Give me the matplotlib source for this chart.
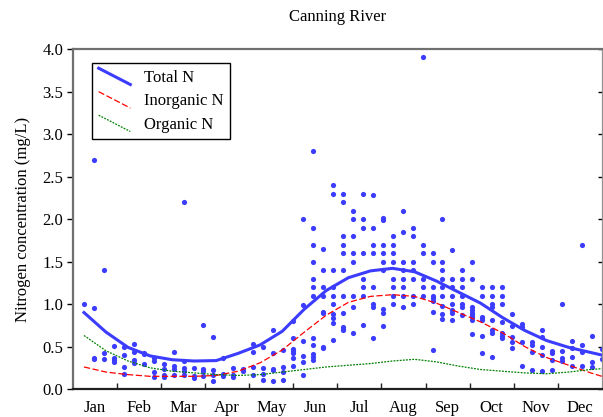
import numpy as np
import matplotlib
matplotlib.use('Agg')
import matplotlib.pyplot as plt
from matplotlib.legend_handler import HandlerBase
from matplotlib.lines import Line2D

plt.rcParams['font.family'] = ['Liberation Serif', 'DejaVu Serif']
plt.rcParams['font.size'] = 12

months = ['Jan', 'Feb', 'Mar', 'Apr', 'May', 'Jun', 'Jul', 'Aug', 'Sep', 'Oct', 'Nov', 'Dec']

# total N samples, one list per weekly sampling column (week 0 .. 52)
weekly_tn = [
    [1.0],
    [2.7, 0.95, 0.36, 0.35],
    [1.4, 0.43, 0.35],
    [0.51, 0.37, 0.34, 0.32],
    [0.5, 0.4, 0.26, 0.18],
    [0.53, 0.44, 0.34, 0.31],
    [0.43, 0.41, 0.30],
    [0.36, 0.33, 0.2, 0.14],
    [0.30, 0.24, 0.17, 0.14],
    [0.44, 0.27, 0.24, 0.17],
    [2.2, 0.33, 0.25, 0.21, 0.16],
    [0.25, 0.15, 0.13],
    [0.75, 0.24, 0.21, 0.15],
    [0.61, 0.22, 0.16, 0.1],
    [0.36, 0.18, 0.15],
    [0.25, 0.17, 0.14],
    [0.24, 0.21],
    [0.53, 0.44, 0.26, 0.16],
    [0.49, 0.25, 0.18, 0.11],
    [0.69, 0.43, 0.24, 0.22, 0.09],
    [0.46, 0.26, 0.20, 0.11],
    [0.80, 0.60, 0.47, 0.45, 0.42, 0.36, 0.27],
    [2.0, 0.99, 0.56, 0.39, 0.32, 0.17],
    [2.8, 1.9, 1.7, 1.5, 1.3, 1.2, 1.1, 0.60, 0.52, 0.41, 0.38, 0.34],
    [1.65, 1.4, 1.2, 1.1, 0.91, 0.90, 0.50, 0.48],
    [2.4, 2.3, 1.4, 1.2, 1.1, 1.0, 0.88, 0.83, 0.78, 0.58],
    [2.3, 2.2, 1.8, 1.7, 1.6, 1.4, 1.1, 0.90, 0.73, 0.71, 0.69],
    [2.1, 2.0, 1.8, 1.6, 1.5, 1.1, 0.97, 0.66],
    [2.3, 2.0, 1.9, 1.6, 1.3, 1.2, 1.1, 0.75],
    [2.28, 1.9, 1.7, 1.6, 1.2, 1.0, 0.97, 0.60],
    [2.01, 1.99, 1.7, 1.6, 1.5, 1.4, 0.94, 0.90, 0.74],
    [1.8, 1.7, 1.6, 1.5, 1.3, 1.2, 1.1, 1.0],
    [2.1, 1.85, 1.5, 1.4, 1.3, 1.2, 1.1, 0.97],
    [1.9, 1.8, 1.5, 1.4, 1.3, 1.1, 1.0],
    [3.9, 1.7, 1.6, 1.3, 1.2, 1.1],
    [1.6, 1.5, 1.2, 1.1, 1.07, 1.03, 0.91, 0.46],
    [2.0, 1.5, 1.4, 1.3, 1.2, 1.1, 0.98, 0.88, 0.82],
    [1.64, 1.3, 1.2, 1.1, 1.0, 0.93, 0.90, 0.81],
    [1.4, 1.3, 1.2, 1.1, 1.0, 0.97, 0.87],
    [1.5, 1.3, 0.96, 0.93, 0.90, 0.87, 0.85, 0.81, 0.65],
    [1.2, 1.1, 0.85, 0.83, 0.81, 0.62, 0.43],
    [1.2, 1.1, 1.0, 0.97, 0.81, 0.69, 0.66, 0.38],
    [1.2, 1.1, 1.0, 0.79, 0.66, 0.62, 0.60],
    [0.88, 0.74, 0.61, 0.55, 0.48],
    [0.77, 0.73, 0.55, 0.27],
    [0.55, 0.52, 0.44, 0.22],
    [0.69, 0.61, 0.50, 0.40, 0.21],
    [0.45, 0.42, 0.34, 0.22],
    [1.0, 0.45, 0.36, 0.33],
    [0.56, 0.48, 0.38, 0.27],
    [1.7, 0.52, 0.44, 0.27],
    [0.62, 0.32, 0.26],
    [0.47, 0.35],
]

# smoothed seasonal curves, read at these month positions
curve_month = [0.25, 0.75, 1.25, 1.75, 2.25, 2.75, 3.25, 3.75, 4.25, 4.75, 5.25, 5.75,
               6.25, 6.75, 7.25, 7.75, 8.25, 8.75, 9.25, 9.75, 10.25, 10.75, 11.25, 11.75, 12.0]
total_n = [0.90, 0.67, 0.49, 0.39, 0.345, 0.33, 0.335, 0.42, 0.52, 0.68, 0.94, 1.16,
           1.31, 1.39, 1.42, 1.38, 1.27, 1.14, 1.01, 0.84, 0.69, 0.57, 0.49, 0.43, 0.40]
inorganic_n = [0.26, 0.20, 0.17, 0.15, 0.15, 0.15, 0.16, 0.21, 0.31, 0.46, 0.67, 0.87,
               1.02, 1.09, 1.11, 1.09, 1.01, 0.90, 0.79, 0.66, 0.50, 0.37, 0.28, 0.19, 0.15]
organic_n = [0.63, 0.45, 0.33, 0.25, 0.21, 0.19, 0.17, 0.16, 0.17, 0.20, 0.23, 0.26,
             0.28, 0.30, 0.33, 0.35, 0.32, 0.27, 0.23, 0.21, 0.19, 0.18, 0.20, 0.23, 0.24]


class DiagHandler(HandlerBase):
    # legend sample drawn as a short line going down to the right
    def create_artists(self, legend, orig_handle, xdescent, ydescent,
                       width, height, fontsize, trans):
        line = Line2D([-xdescent, -xdescent + width],
                      [-ydescent + height * 1.15, -ydescent - height * 0.25])
        line.update_from(orig_handle)
        line.set_transform(trans)
        return [line]


fig = plt.figure(figsize=(6.03, 4.17), dpi=100)
ax = fig.add_axes([0.121, 0.067, 0.877, 0.8155])

xs, ys = [], []
for k, vals in enumerate(weekly_tn):
    for v in vals:
        xs.append(0.25 + k * 11.75 / 52)
        ys.append(v)
ax.scatter(xs, ys, s=14, color='#3c3cff', linewidths=0, zorder=2)

h1, = ax.plot(curve_month, total_n, color='#3c3cff', lw=2.2, zorder=3, label='Total N')
h2, = ax.plot(curve_month, inorganic_n, color='red', lw=0.9, ls=(0, (5, 2)), zorder=3, label='Inorganic N')
h3, = ax.plot(curve_month, organic_n, color='green', lw=0.9, ls=(0, (1.5, 1)), zorder=3, label='Organic N')

ax.set_xlim(0, 12)
ax.set_ylim(0, 4)
ax.set_xticks(np.arange(12) + 0.5)
ax.set_xticklabels(months)
ax.set_xticks(np.arange(1, 12), minor=True)
ax.tick_params(axis='x', which='both', direction='in', bottom=True, top=False)
ax.tick_params(axis='x', which='major', length=0, pad=8)
ax.tick_params(axis='x', which='minor', length=4, width=1, color='#202020')
ax.set_yticks(np.arange(0, 4.01, 0.5))
ax.set_yticklabels(['%.1f' % v for v in np.arange(0, 4.01, 0.5)])
ax.tick_params(axis='y', direction='out', length=4, width=1, pad=3)

sec = ax.secondary_yaxis('right')
sec.set_yticks(np.arange(0, 4.01, 0.5))
sec.set_yticklabels([])
sec.tick_params(direction='in', length=3, width=1)
sec.spines['right'].set_color('#909090')

for side in ['top', 'bottom', 'left']:
    ax.spines[side].set_color('#707070')
    ax.spines[side].set_linewidth(1.6)
ax.spines['bottom'].set_color('#202020')
ax.spines['right'].set_color('#909090')

ax.set_title('Canning River', fontsize=12, pad=20)
ax.set_ylabel('Nitrogen concentration (mg/L)', fontsize=12, labelpad=8)

leg = ax.legend(handles=[h1, h2, h3], loc='upper left', bbox_to_anchor=(0.036, 0.959),
                borderaxespad=0, fancybox=False, framealpha=1, edgecolor='black',
                handlelength=1.9, handletextpad=0.8, labelspacing=0.45, fontsize=12,
                handler_map={Line2D: DiagHandler()})
leg.get_frame().set_linewidth(1.0)

fig.savefig('out.png', dpi=100)
